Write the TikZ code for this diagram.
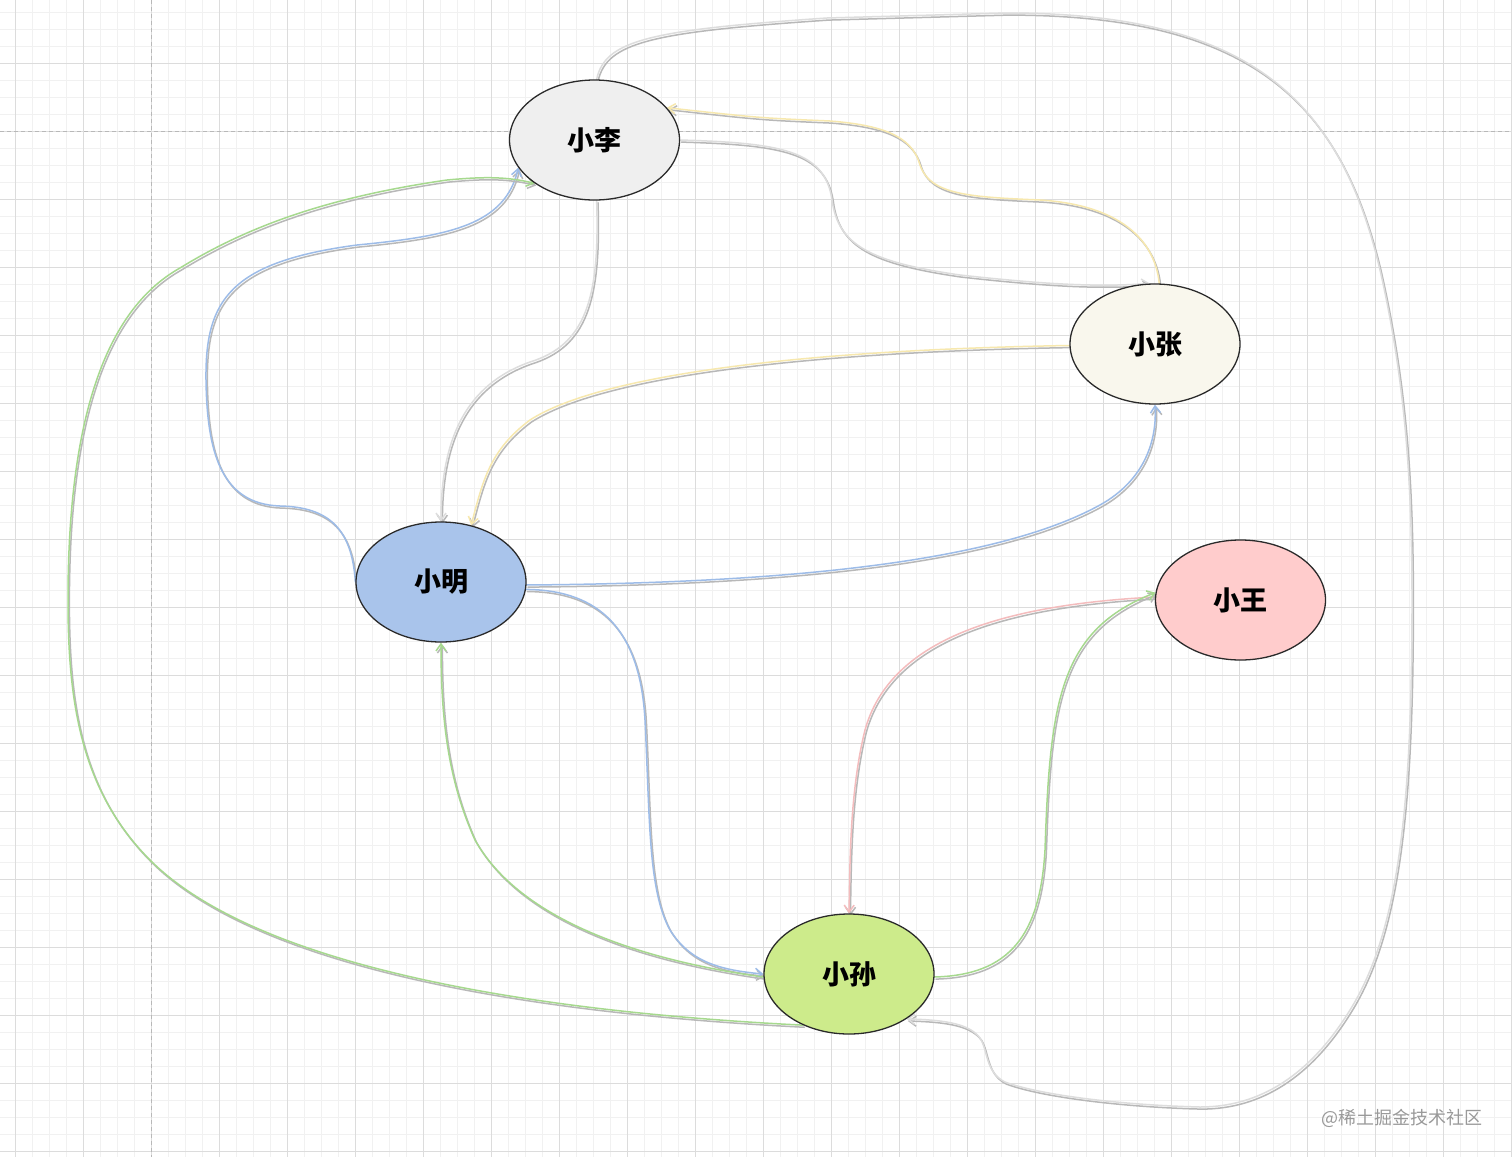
\documentclass[tikz,border=0pt]{standalone}
\usepackage{fontspec}
\newfontfamily\cjk{Noto Sans CJK SC}
\usetikzlibrary{shapes.geometric,arrows.meta}
\pgfdeclarelayer{gridlayer}
\pgfdeclarelayer{edgelayer}
\pgfsetlayers{gridlayer,edgelayer,main}
\definecolor{minorc}{HTML}{F1F1F1}
\definecolor{majorc}{HTML}{DCDCDC}
\definecolor{dashc}{HTML}{B8B8B8}
\definecolor{lifill}{HTML}{EFEFEF}
\definecolor{zhangfill}{HTML}{F9F7ED}
\definecolor{mingfill}{HTML}{A9C4EB}
\definecolor{wangfill}{HTML}{FFCCCC}
\definecolor{sunfill}{HTML}{CDEB8B}
\definecolor{bordc}{HTML}{2A2A2A}
\definecolor{grayc}{HTML}{DDDDDD}
\definecolor{bluec}{HTML}{9DBCE8}
\definecolor{greenc}{HTML}{A6D98E}
\definecolor{pinkc}{HTML}{F4BCBD}
\definecolor{yellowc}{HTML}{F7E8AE}
\definecolor{shadec}{HTML}{B8B8B8}
\newcommand\skedge[2]{%
  \draw[edgeline,draw=shadec,transform canvas={shift={(1.4pt,-2.1pt)}}] #2;
  \draw[edgeline,draw=#1] #2;
}
\tikzset{
  minorgrid/.style={draw=minorc,line width=0.8pt},
  majorgrid/.style={draw=majorc,line width=0.9pt},
  dashgrid/.style={draw=dashc,line width=0.9pt,dash pattern=on 4pt off 3pt},
  person/.style={ellipse,draw=bordc,line width=1.3pt,minimum width=170pt,minimum height=120pt,inner sep=0pt,
    font=\cjk\bfseries\fontsize{27}{27}\selectfont},
  edgeline/.style={line width=1.5pt,line cap=round,line join=round,-{Straight Barb[length=7pt,width=10pt]}}
}
\begin{document}
\begin{tikzpicture}[x=1pt,y=-1pt]
\useasboundingbox (0,0) rectangle (1512,1157);
% nodes
\node[person,fill=lifill] (li) at (594.5,140) {小李};
\node[person,fill=zhangfill] (zhang) at (1155,344) {小张};
\node[person,fill=mingfill] (ming) at (441,582) {小明};
\node[person,fill=wangfill] (wang) at (1240.5,600) {小王};
\node[person,fill=sunfill] (sun) at (849,974) {小孙};
\node[anchor=west,text=black!40,font=\cjk\fontsize{18}{18}\selectfont,inner sep=0pt] (wm) at (1321,1118) {@稀土掘金技术社区};
% grid
\begin{pgfonlayer}{gridlayer}
\fill[white] (0,0) rectangle (1512,1157);
\foreach \x in {-1.3,15.7,...,1520} \draw[minorgrid] (\x,0) -- (\x,1157);
\foreach \y in {-5,12,...,1160} \draw[minorgrid] (0,\y) -- (1512,\y);
\foreach \x in {15.7,83.7,...,1520} \draw[majorgrid] (\x,0) -- (\x,1157);
\foreach \y in {-5,63,...,1160} \draw[majorgrid] (0,\y) -- (1512,\y);
\draw[dashgrid] (151.7,0) -- (151.7,1157);
\draw[dashgrid] (0,131) -- (1512,131);
\end{pgfonlayer}
% edges
\begin{pgfonlayer}{edgelayer}
% li -> sun (outer loop)
\skedge{grayc}{(li.88) .. controls (605,40) and (650,30) .. (827,18) -- (1007,13)
  .. controls (1250,13) and (1340,100) .. (1380,270)
  .. controls (1405,380) and (1412,480) .. (1412,600)
  .. controls (1412,800) and (1400,930) .. (1350,1010)
  .. controls (1310,1075) and (1260,1107) .. (1200,1107)
  .. controls (1120,1105) and (1040,1095) .. (1005,1082)
  .. controls (985,1072) and (988,1050) .. (980,1038)
  .. controls (970,1025) and (950,1020) .. (sun.-38)}
% li -> zhang
\skedge{grayc}{(li.east) .. controls (780,143) and (825,150) .. (832,200)
  .. controls (838,245) and (870,262) .. (960,275)
  .. controls (1050,285) and (1100,287) .. (zhang.95)}
% zhang -> li
\skedge{yellowc}{(zhang.86) .. controls (1155,240) and (1120,205) .. (1040,200)
  .. controls (970,197) and (930,195) .. (920,165)
  .. controls (912,135) and (880,125) .. (830,121)
  .. controls (760,118) .. (li.24)}
% li -> ming
\skedge{grayc}{(li.-88) .. controls (600,300) and (585,345) .. (530,362)
  .. controls (465,385) and (441,440) .. (ming.north)}
% zhang -> ming
\skedge{yellowc}{(zhang.181) .. controls (800,350) and (600,375) .. (530,420)
  .. controls (490,450) and (483,480) .. (ming.62)}
% ming -> li
\skedge{bluec}{(ming.west) .. controls (352,530) and (330,507) .. (280,506)
  .. controls (220,504) and (207,450) .. (206,380)
  .. controls (205,300) and (230,262) .. (357,245)
  .. controls (450,236) and (505,225) .. (li.200)}
% sun -> li
\skedge{greenc}{(sun.-132) .. controls (500,1010) and (250,960) .. (150,860)
  .. controls (80,790) and (68,700) .. (68,600)
  .. controls (68,420) and (105,310) .. (180,268)
  .. controls (250,225) and (330,197) .. (447,180)
  .. controls (480,177) and (505,176) .. (li.216)}
% ming -> zhang
\skedge{bluec}{(ming.-2) .. controls (800,583) and (1000,560) .. (1100,505)
  .. controls (1145,480) and (1157,440) .. (zhang.south)}
% ming -> sun
\skedge{bluec}{(ming.-5) .. controls (600,590) and (640,630) .. (645,720)
  .. controls (650,820) and (648,890) .. (670,930)
  .. controls (690,962) and (720,970) .. (sun.west)}
% sun -> ming
\skedge{greenc}{(sun.182) .. controls (640,960) and (520,920) .. (475,840)
  .. controls (448,780) and (441,720) .. (ming.south)}
% wang -> sun
\skedge{pinkc}{(wang.178) .. controls (1000,605) and (890,640) .. (865,730)
  .. controls (850,790) and (850,860) .. (sun.north)}
% sun -> wang
\skedge{greenc}{(sun.-2) .. controls (1010,975) and (1040,935) .. (1045,850)
  .. controls (1050,700) and (1060,630) .. (wang.175)}
\end{pgfonlayer}
\end{tikzpicture}
\end{document}
